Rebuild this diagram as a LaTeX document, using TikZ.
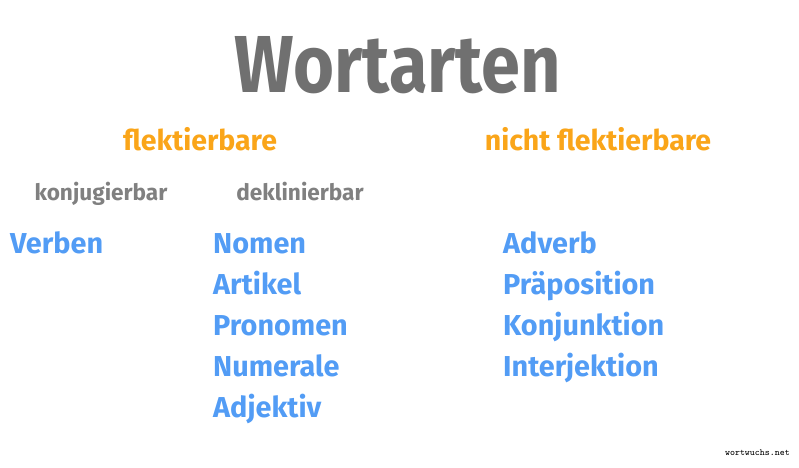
\documentclass[tikz,border=0pt]{standalone}
\usepackage{fontspec}
\setsansfont{Fira Sans}
\usepackage{xcolor}
\usetikzlibrary{positioning}

\definecolor{titlegray}{RGB}{112,112,112}
\definecolor{subgray}{RGB}{128,128,128}
\definecolor{flexorange}{RGB}{250,165,25}
\definecolor{wordblue}{RGB}{82,156,245}

\begin{document}
\begin{tikzpicture}[x=0.03cm, y=-0.03cm,
    every node/.style={inner sep=0pt, font=\sffamily\bfseries},
    titletext/.style={text=titlegray, anchor=base, font=\sffamily\bfseries\fontsize{60}{62}\selectfont},
    grouptext/.style={text=flexorange, anchor=base, font=\sffamily\bfseries\fontsize{24.3}{28}\selectfont},
    subtext/.style={text=subgray, anchor=base, font=\sffamily\bfseries\fontsize{19.3}{22}\selectfont},
    wordtext/.style={text=wordblue, anchor=base west, font=\sffamily\bfseries\fontsize{24.6}{28}\selectfont}]
    \path[use as bounding box] (0,0) rectangle (799,467);

    \node[titletext] (title) at (398,92) {\scalebox{1}[1.15]{Wortarten}};

    \node[grouptext] (flekt) at (200,150) {flektierbare};
    \node[grouptext] (nflekt) at (598,150) {nicht flektierbare};

    \node[subtext] (konj) at (101,200) {konjugierbar};
    \node[subtext] (dekl) at (300,200) {deklinierbar};

    % konjugierbar
    \node[wordtext] (verben) at (10,253) {Verben};

    % deklinierbar
    \node[wordtext] (nomen) at (213,253) {Nomen};
    \node[wordtext] (artikel) at (213,294) {Artikel};
    \node[wordtext] (pronomen) at (213,335) {Pronomen};
    \node[wordtext] (numerale) at (213,376) {Numerale};
    \node[wordtext] (adjektiv) at (213,417) {Adjektiv};

    % nicht flektierbar
    \node[wordtext] (adverb) at (503,253) {Adverb};
    \node[wordtext] (praep) at (503,294) {Präposition};
    \node[wordtext] (konjunk) at (503,335) {Konjunktion};
    \node[wordtext] (interj) at (503,376) {Interjektion};

    \node[anchor=base east, font=\ttfamily\fontsize{8}{9}\selectfont] (site) at (790,455) {wortwuchs.net};
\end{tikzpicture}
\end{document}
